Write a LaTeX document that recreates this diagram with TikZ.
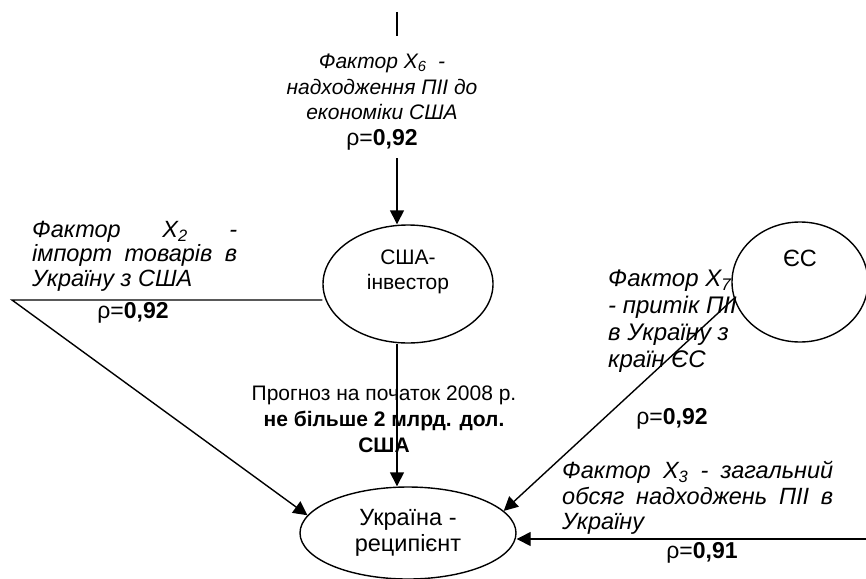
\documentclass[tikz,border=0pt]{standalone}
\usepackage{fontspec}
\setmainfont{Liberation Sans}
\usetikzlibrary{arrows.meta,shapes.geometric,calc}

\begin{document}
\begin{tikzpicture}[x=1pt,y=-1pt,
          party/.style={draw,ellipse,line width=1.4pt,inner sep=0pt,
                        font=\fontsize{23.5}{25.5}\selectfont,align=center},
          fac/.style={font=\fontsize{21}{25.5}\selectfont\itshape,inner sep=0pt},
          bigfac/.style={fac,font=\fontsize{23.5}{24.5}\selectfont\itshape,align=justify},
          rho/.style={font=\fontsize{23}{25.5}\selectfont,inner sep=0pt,anchor=base},
          ar/.style={-{Triangle[length=14pt,width=14pt]},line width=1.4pt},
          ln/.style={line width=1.4pt}
        ]
        \useasboundingbox (0,0) rectangle (866,578);
        % the three sides
        \node[party,minimum width=170pt,minimum height=118pt,
              label={[font=\fontsize{21}{25.5}\selectfont,align=center,yshift=12pt]center:США-\\інвестор}]
              (usa) at (408,284) {};
        \node[party,minimum width=136pt,minimum height=120pt,
              label={[font=\fontsize{23.5}{25.5}\selectfont,yshift=24pt]center:ЄС}]
              (ec) at (800,282) {};
        \node[party,minimum width=216pt,minimum height=92pt] (ua) at (408,533) {Україна -\\реципієнт};
        \coordinate (topin) at (397,12);
        \coordinate (x2bend) at (12,300);
        \coordinate (x3in) at (866,539);
        % factors
        \node[fac,align=center,anchor=north,inner ysep=8pt] (f6) at (382,46)
              {Фактор X\textsubscript{6}~ -\\надходження ПІІ до\\економіки США\\\upshape\fontsize{23}{25.5}\selectfont ρ=\textbf{0,92}};
        \node[bigfac,text width=205pt,anchor=north west] (f2) at (32,221)
              {Фактор X\textsubscript{2} -\linebreak імпорт товарів в\linebreak Україну з США};
        \node[fac,align=left,anchor=north west,font=\fontsize{24}{27}\selectfont\itshape] (f7) at (608,270)
              {Фактор X\textsubscript{7}\\- притік ПІІ\\в Україну з\\країн ЄС};
        \node[bigfac,text width=271pt,anchor=north west,font=\fontsize{23.5}{25.5}\selectfont\itshape] (f3) at (562,461)
              {Фактор X\textsubscript{3} - загальний\linebreak обсяг надходжень ПІІ в\linebreak Україну};
        \node[rho] (r2) at (133,318) {ρ=\textbf{0,92}};
        \node[rho] (r7) at (672,424) {ρ=\textbf{0,92}};
        \node[rho] (r3) at (702,558) {ρ=\textbf{0,91}};
        \node[fac,align=center,anchor=north,font=\fontsize{21}{26}\selectfont\upshape] (fc) at (384,386)
              {Прогноз на початок 2008 р.\\\textbf{не більше 2 млрд. дол.}\\\textbf{США}};
        % links
        \draw[ln] (topin) -- ([yshift=10pt]topin |- f6.north);
        \draw[ar] (f6.south -| topin) -- (topin |- usa.north);
        \draw[ar] (topin |- usa.south) -- (topin |- ua.north);
        \draw[ar] (x2bend -| usa.west) -- (x2bend) -- (ua.170);
        \draw[ar] (ec.194) -- (ua.13);
        \draw[ar] (x3in) -- (x3in -| ua.east);
      \end{tikzpicture}
\end{document}
